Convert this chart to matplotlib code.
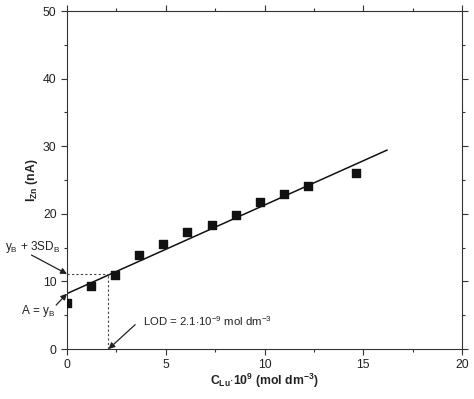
import matplotlib
matplotlib.use('Agg')
import matplotlib.pyplot as plt
import numpy as np

plt.rcParams['font.family'] = ['Liberation Sans', 'DejaVu Sans']
plt.rcParams['mathtext.fontset'] = 'custom'
plt.rcParams['mathtext.rm'] = 'Liberation Sans'
plt.rcParams['mathtext.it'] = 'Liberation Sans:italic'
plt.rcParams['mathtext.bf'] = 'Liberation Sans:bold'

# measured points
c_lu = [0.0, 1.2, 2.45, 3.65, 4.85, 6.1, 7.35, 8.55, 9.75, 11.0, 12.2, 14.65]
i_zn = [6.8, 9.3, 10.9, 13.9, 15.6, 17.3, 18.4, 19.9, 21.8, 22.9, 24.1, 26.1]

# calibration line
intercept = 8.2
slope = 1.31
line_x = [0.0, 16.2]

y_lod = 11.1
x_lod = 2.1

col = '#222222'
fig = plt.figure(figsize=(4.74, 3.99), dpi=100)
ax = fig.add_axes([0.1414, 0.1253, 0.8333, 0.847])

ax.scatter(c_lu, i_zn, marker='s', s=30, color='#111111', zorder=3)
lx = np.array(line_x)
ax.plot(lx, intercept + slope * lx, color='#111111', lw=1.1)

ax.plot([0, x_lod], [y_lod, y_lod], ls=(0, (2, 2)), color='#444444', lw=0.8)
ax.plot([x_lod, x_lod], [0, y_lod], ls=(0, (2, 2)), color='#444444', lw=0.8)

arrow = dict(arrowstyle='-|>', color='#222222', lw=0.9, mutation_scale=9, shrinkA=0, shrinkB=0)
ax.text(-3.15, 15.1, r'y$_\mathregular{B}$ + 3SD$_\mathregular{B}$', ha='left', va='center',
        fontsize=8.5, color=col, clip_on=False)
ax.annotate('', xy=(0, y_lod), xytext=(-1.8, 13.9), arrowprops=arrow, annotation_clip=False)
ax.text(-0.6, 5.6, r'A = y$_\mathregular{B}$', ha='right', va='center',
        fontsize=8.5, color=col, clip_on=False)
ax.annotate('', xy=(0, intercept), xytext=(-0.55, 6.5), arrowprops=arrow, annotation_clip=False)
ax.text(3.85, 4.1, r'LOD = 2.1$\cdot$10$^{\mathregular{-9}}$ mol dm$^{\mathregular{-3}}$',
        ha='left', va='center', fontsize=8.2, color=col)
ax.annotate('', xy=(x_lod, 0), xytext=(3.45, 3.6), arrowprops=arrow, annotation_clip=False)

ax.set_xlim(0, 20)
ax.set_ylim(0, 50)
ax.set_xticks([0, 5, 10, 15, 20])
ax.set_xticks([2.5, 7.5, 12.5, 17.5], minor=True)
ax.set_yticks([0, 10, 20, 30, 40, 50])
ax.set_yticks([5, 15, 25, 35, 45], minor=True)
ax.tick_params(which='both', direction='out', top=True, right=True, colors='#333333',
               labelsize=8.8, labelcolor=col, width=0.8)
ax.tick_params(which='major', length=4)
ax.tick_params(which='minor', length=2.5)
for s in ax.spines.values():
    s.set_color('#333333')
    s.set_linewidth(0.8)

ax.set_xlabel(r'C$_\mathregular{Lu}$$\cdot$10$^\mathregular{9}$ (mol dm$^\mathregular{-3}$)',
              fontsize=8.8, fontweight='bold', color=col, labelpad=0)
ax.set_ylabel(r'I$_\mathregular{Zn}$ (nA)', fontsize=8.8, fontweight='bold', color=col, labelpad=2)

fig.savefig('out.png', dpi=100)
